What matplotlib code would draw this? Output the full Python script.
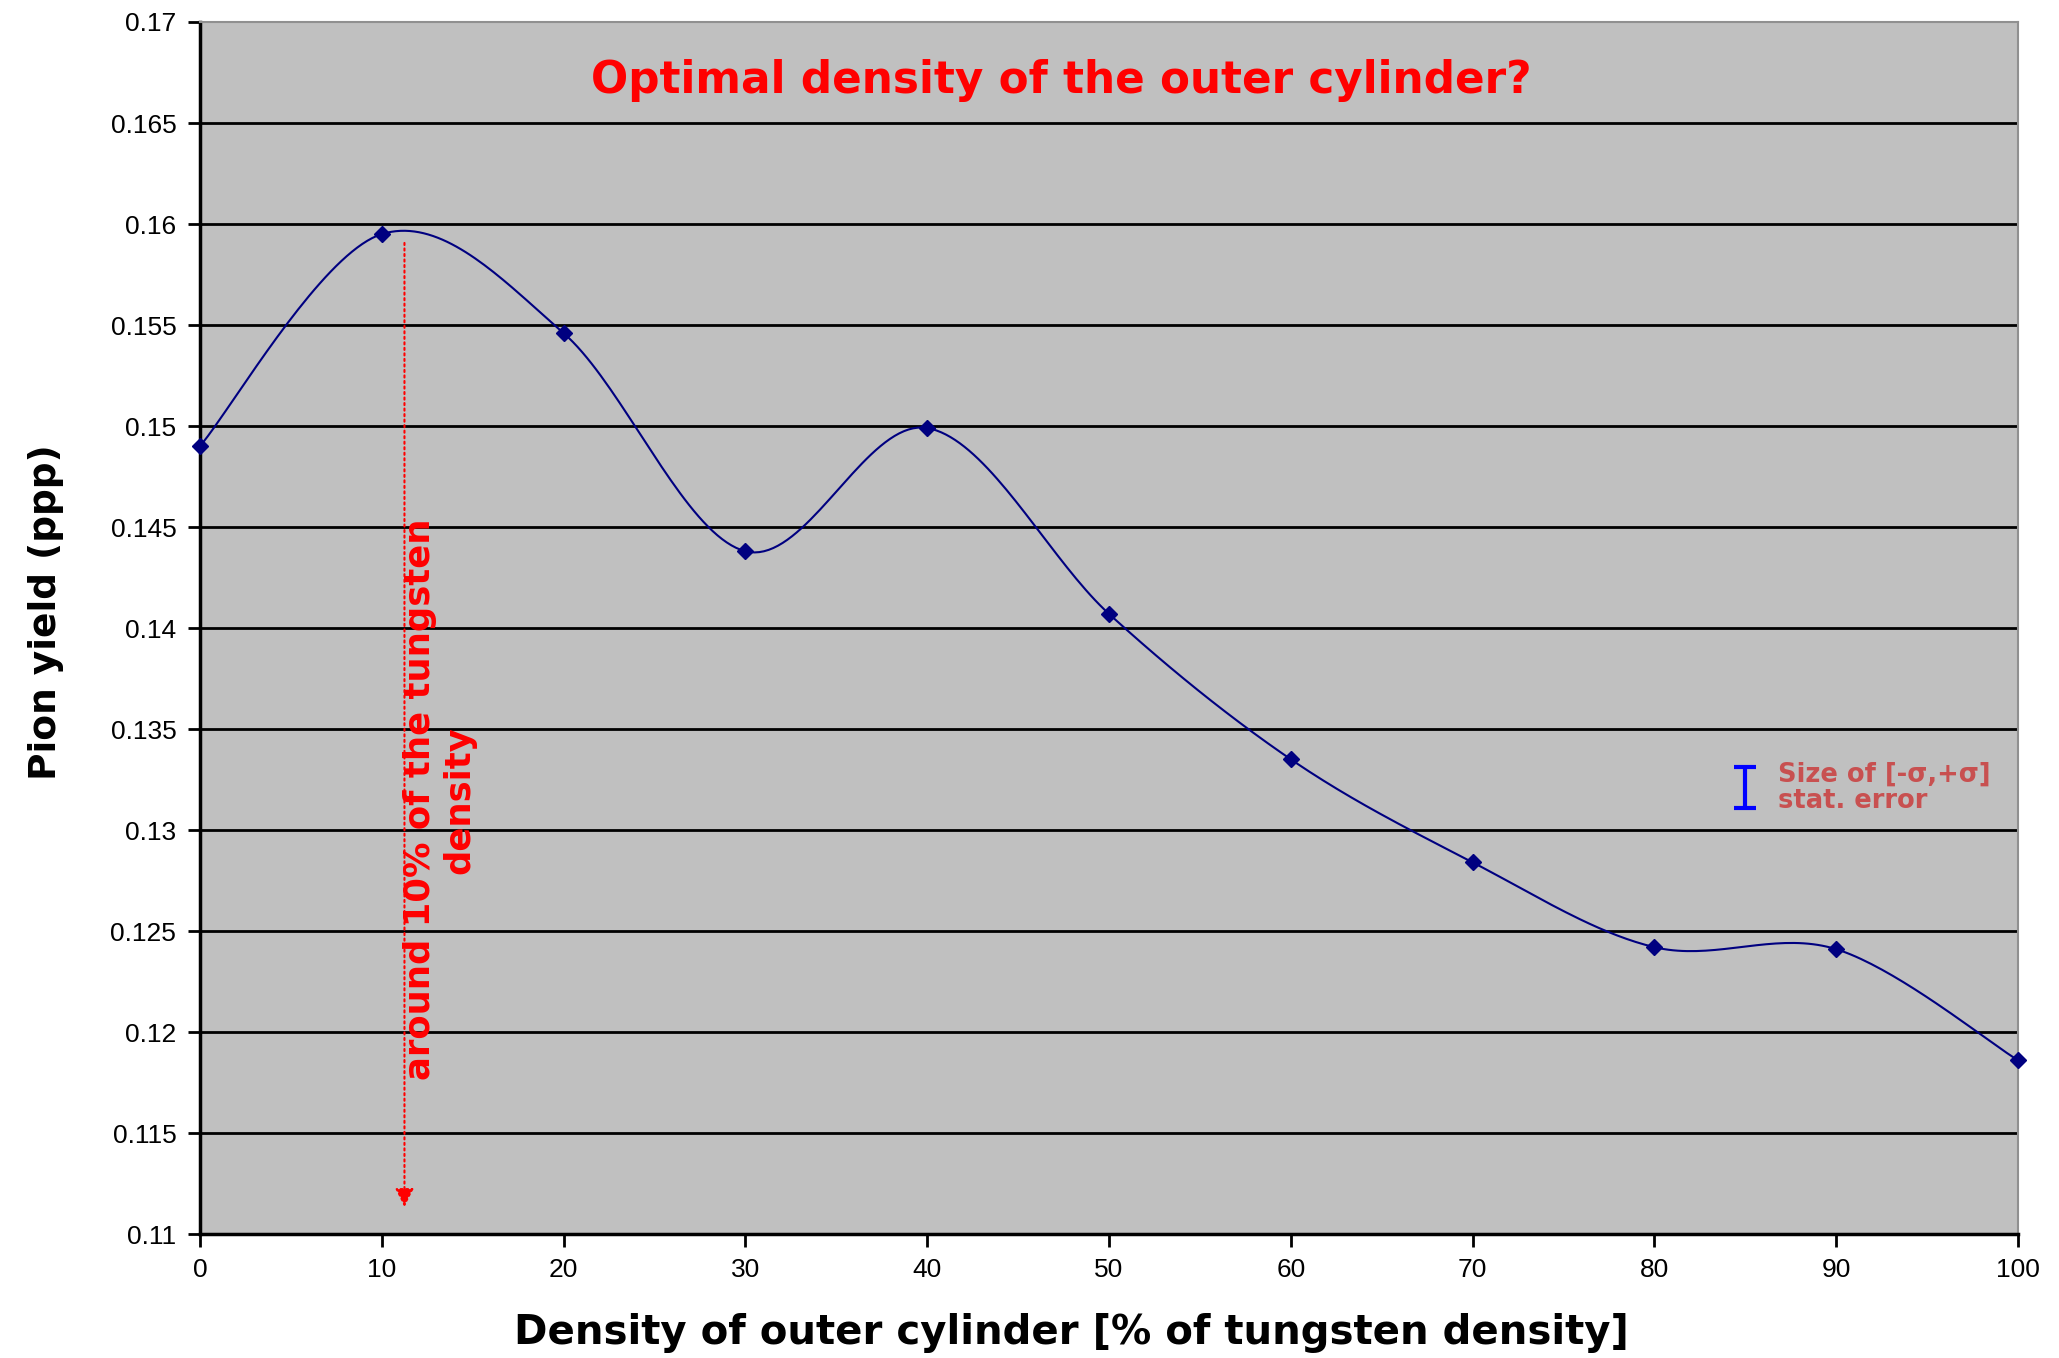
import numpy as np
import matplotlib
matplotlib.use("Agg")
import matplotlib.pyplot as plt

# density of the outer cylinder (% of tungsten density) and simulated pion yield
density = [0, 10, 20, 30, 40, 50, 60, 70, 80, 90, 100]
pion_yield = [0.1490, 0.1595, 0.1546, 0.1438, 0.1499, 0.1407,
              0.1335, 0.1284, 0.1242, 0.1241, 0.1186]

# size of one stat. error bar ([-sigma, +sigma])
sigma = 0.001
err_x, err_y = 85, 0.1321

y_ticks = [0.11, 0.115, 0.12, 0.125, 0.13, 0.135, 0.14, 0.145, 0.15,
           0.155, 0.16, 0.165, 0.17]
y_tick_labels = ["0.11", "0.115", "0.12", "0.125", "0.13", "0.135", "0.14",
                 "0.145", "0.15", "0.155", "0.16", "0.165", "0.17"]
x_ticks = [0, 10, 20, 30, 40, 50, 60, 70, 80, 90, 100]


def smooth_curve(xs, ys, n=40):
    # Catmull-Rom style Bezier smoothing, like a spreadsheet "smoothed line"
    p = np.column_stack([xs, ys]).astype(float)
    out = []
    for i in range(len(p) - 1):
        p0 = p[i - 1] if i > 0 else p[i]
        p1, p2 = p[i], p[i + 1]
        p3 = p[i + 2] if i + 2 < len(p) else p[i + 1]
        c1 = p1 + (p2 - p0) / 6.0
        c2 = p2 - (p3 - p1) / 6.0
        t = np.linspace(0, 1, n)[:, None]
        seg = ((1 - t) ** 3) * p1 + 3 * ((1 - t) ** 2) * t * c1 \
            + 3 * (1 - t) * t ** 2 * c2 + t ** 3 * p2
        out.append(seg if i == 0 else seg[1:])
    out = np.vstack(out)
    return out[:, 0], out[:, 1]


bold_font = ["DejaVu Sans"]
tick_font = ["Liberation Sans", "DejaVu Sans"]

fig = plt.figure(figsize=(20.59, 13.58), dpi=100)
ax = fig.add_axes([0.0971, 0.0913, 0.883, 0.8925])
ax.set_facecolor("#c0c0c0")

for yv in y_ticks[1:-1]:
    ax.axhline(yv, color="black", lw=2, zorder=1)

sx, sy = smooth_curve(density, pion_yield)
ax.plot(sx, sy, color="#000080", lw=1.5, zorder=3)
ax.plot(density, pion_yield, ls="none", marker="D", ms=8, color="#000080",
        zorder=4, clip_on=False)

# arrow pointing at the optimum
ax.annotate("", xy=(11.25, 0.1112), xytext=(11.25, 0.1592),
            arrowprops=dict(arrowstyle="-|>", color="red", lw=1.5, ls=":",
                            mutation_scale=28), zorder=5)
ax.text(13.2, 0.1315, "around 10% of the tungsten\ndensity", rotation=90,
        color="red", fontsize=25.5, fontweight="bold", family=bold_font,
        ha="center", va="center", multialignment="center", zorder=6)

ax.text(47.4, 0.1671, "Optimal density of the outer cylinder?", color="red",
        fontsize=31.5, fontweight="bold", family=bold_font,
        ha="center", va="center")

# stat. error size indicator
ax.errorbar([err_x], [err_y], yerr=[sigma], color="blue", lw=3, capsize=8,
            capthick=3, zorder=5)
ax.text(86.8, 0.1321, "Size of [-\u03c3,+\u03c3]\nstat. error", color="#c85050",
        fontsize=18.5, fontweight="bold", family=bold_font,
        ha="left", va="center", linespacing=1.0)

ax.set_xlim(0, 100)
ax.set_ylim(0.11, 0.17)
ax.set_xticks(x_ticks)
ax.set_xticklabels([str(v) for v in x_ticks], family=tick_font, fontsize=19)
ax.set_yticks(y_ticks)
ax.set_yticklabels(y_tick_labels, family=tick_font, fontsize=19)
ax.tick_params(direction="out", length=9, width=2, color="black", pad=8)

for side in ("left", "bottom"):
    ax.spines[side].set_color("black")
    ax.spines[side].set_linewidth(2.5)
for side in ("top", "right"):
    ax.spines[side].set_color("#909090")
    ax.spines[side].set_linewidth(1.5)

ax.set_xlabel("Density of outer cylinder [% of tungsten density]", fontsize=29,
              fontweight="bold", family=bold_font, va="center")
ax.xaxis.set_label_coords(0.4794, -0.0813)
ax.set_ylabel("Pion yield (ppp)", fontsize=27, fontweight="bold",
              family=bold_font, va="center")
ax.yaxis.set_label_coords(-0.0847, 0.5135)

fig.savefig("out.png", dpi=100, facecolor="white")
